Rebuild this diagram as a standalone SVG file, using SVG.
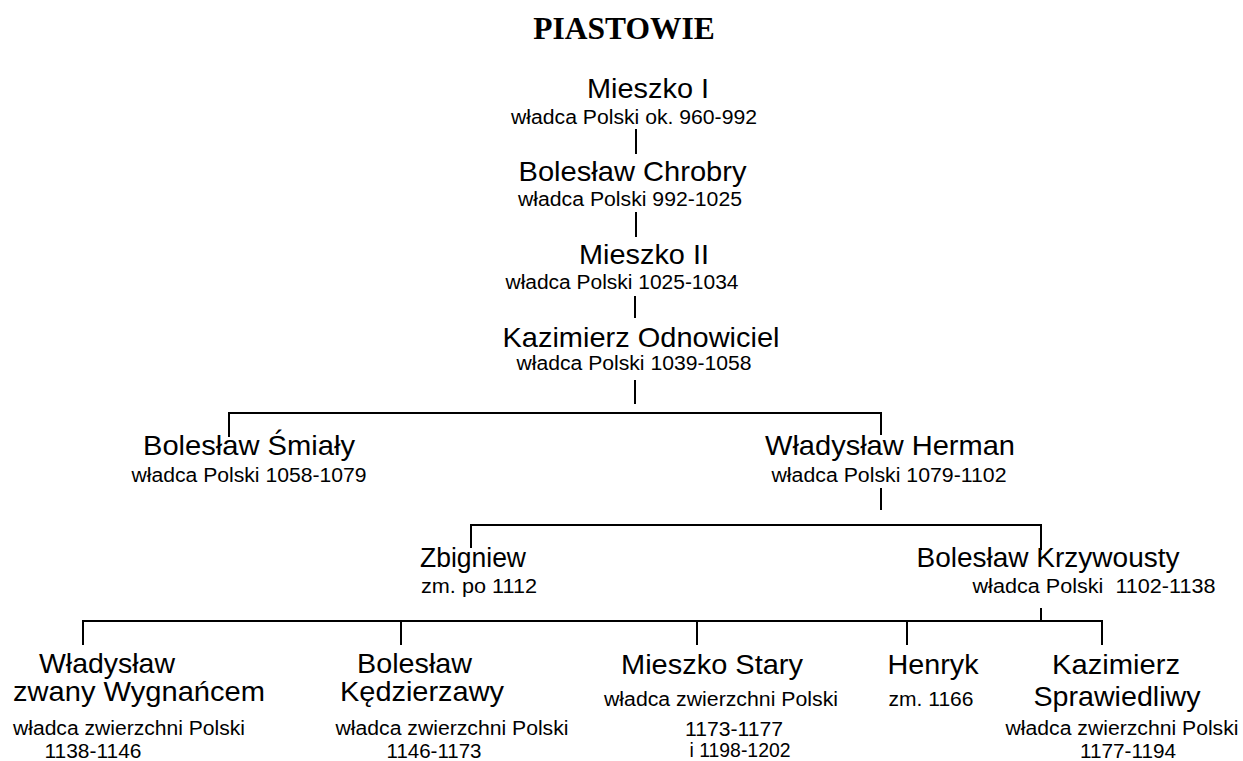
<svg xmlns="http://www.w3.org/2000/svg" width="1243" height="761" viewBox="0 0 1243 761">
<style>
.t{font-family:"Liberation Serif","Times New Roman",serif;font-weight:bold;font-size:31.5px;fill:#000;text-anchor:middle}
.n{font-family:"Liberation Sans",Arial,sans-serif;font-size:27.5px;fill:#000;text-anchor:middle}
.s{font-family:"Liberation Sans",Arial,sans-serif;font-size:20px;fill:#000;text-anchor:middle}
.c{stroke:#000;stroke-width:2;fill:none}
</style>
<rect width="1243" height="761" fill="#fff"/>
<text class="t" x="624" y="39">PIASTOWIE</text>
<g id="connectors">
<path class="c" d="M636 129V154M636 212V237M635 296V318M635 380V404"/>
<path class="c" d="M229 437V413H881V435"/>
<path class="c" d="M881 488V510"/>
<path class="c" d="M471 548V525H1041V550"/>
<path class="c" d="M1041 608V621"/>
<path class="c" d="M83 645V621H1102V645M401 621V645M697 621V645M907 621V645"/>
</g>
<g id="mieszko1">
<text class="n" x="648" y="98" textLength="122" lengthAdjust="spacingAndGlyphs">Mieszko I</text>
<text class="s" x="634" y="124" textLength="246" lengthAdjust="spacingAndGlyphs">władca Polski ok. 960-992</text>
</g>
<g id="chrobry">
<text class="n" x="632.5" y="181" textLength="228" lengthAdjust="spacingAndGlyphs">Bolesław Chrobry</text>
<text class="s" x="630" y="205.5" textLength="224" lengthAdjust="spacingAndGlyphs">władca Polski 992-1025</text>
</g>
<g id="mieszko2">
<text class="n" x="644" y="263.5" textLength="130" lengthAdjust="spacingAndGlyphs">Mieszko II</text>
<text class="s" x="622" y="289" textLength="233" lengthAdjust="spacingAndGlyphs">władca Polski 1025-1034</text>
</g>
<g id="odnowiciel">
<text class="n" x="641" y="346.5" textLength="277" lengthAdjust="spacingAndGlyphs">Kazimierz Odnowiciel</text>
<text class="s" x="634" y="370" textLength="235" lengthAdjust="spacingAndGlyphs">władca Polski 1039-1058</text>
</g>
<g id="smialy">
<text class="n" x="249" y="455" textLength="212" lengthAdjust="spacingAndGlyphs">Bolesław Śmiały</text>
<text class="s" x="249" y="481.5" textLength="235" lengthAdjust="spacingAndGlyphs">władca Polski 1058-1079</text>
</g>
<g id="herman">
<text class="n" x="890" y="455" textLength="250" lengthAdjust="spacingAndGlyphs">Władysław Herman</text>
<text class="s" x="889" y="481.5" textLength="235" lengthAdjust="spacingAndGlyphs">władca Polski 1079-1102</text>
</g>
<g id="zbigniew">
<text class="n" x="473" y="566.5" textLength="106" lengthAdjust="spacingAndGlyphs">Zbigniew</text>
<text class="s" x="479" y="592.5" textLength="116" lengthAdjust="spacingAndGlyphs">zm. po 1112</text>
</g>
<g id="krzywousty">
<text class="n" x="1048" y="566.5" textLength="263" lengthAdjust="spacingAndGlyphs">Bolesław Krzywousty</text>
<text class="s" x="1094" y="592.5" textLength="243" lengthAdjust="spacingAndGlyphs" xml:space="preserve">władca Polski  1102-1138</text>
</g>
<g id="wygnaniec">
<text class="n" x="107" y="673" textLength="136" lengthAdjust="spacingAndGlyphs">Władysław</text>
<text class="n" x="139" y="701" textLength="252" lengthAdjust="spacingAndGlyphs">zwany Wygnańcem</text>
<text class="s" x="129" y="735" textLength="232" lengthAdjust="spacingAndGlyphs">władca zwierzchni Polski</text>
<text class="s" x="93" y="758" textLength="97" lengthAdjust="spacingAndGlyphs">1138-1146</text>
</g>
<g id="kedzierzawy">
<text class="n" x="414.5" y="673" textLength="115" lengthAdjust="spacingAndGlyphs">Bolesław</text>
<text class="n" x="422" y="701" textLength="164" lengthAdjust="spacingAndGlyphs">Kędzierzawy</text>
<text class="s" x="452" y="735" textLength="233" lengthAdjust="spacingAndGlyphs">władca zwierzchni Polski</text>
<text class="s" x="434" y="758" textLength="95" lengthAdjust="spacingAndGlyphs">1146-1173</text>
</g>
<g id="stary">
<text class="n" x="712" y="673.5" textLength="182" lengthAdjust="spacingAndGlyphs">Mieszko Stary</text>
<text class="s" x="721" y="706" textLength="234" lengthAdjust="spacingAndGlyphs">władca zwierzchni Polski</text>
<text class="s" x="734" y="735.5" textLength="98" lengthAdjust="spacingAndGlyphs">1173-1177</text>
<text class="s" x="740" y="756.5" textLength="101" lengthAdjust="spacingAndGlyphs">i 1198-1202</text>
</g>
<g id="henryk">
<text class="n" x="933" y="673.5" textLength="91" lengthAdjust="spacingAndGlyphs">Henryk</text>
<text class="s" x="931" y="706" textLength="85" lengthAdjust="spacingAndGlyphs">zm. 1166</text>
</g>
<g id="sprawiedliwy">
<text class="n" x="1116" y="673.5" textLength="128" lengthAdjust="spacingAndGlyphs">Kazimierz</text>
<text class="n" x="1117" y="706" textLength="167" lengthAdjust="spacingAndGlyphs">Sprawiedliwy</text>
<text class="s" x="1122" y="735" textLength="233" lengthAdjust="spacingAndGlyphs">władca zwierzchni Polski</text>
<text class="s" x="1128" y="758" textLength="96" lengthAdjust="spacingAndGlyphs">1177-1194</text>
</g>
</svg>
